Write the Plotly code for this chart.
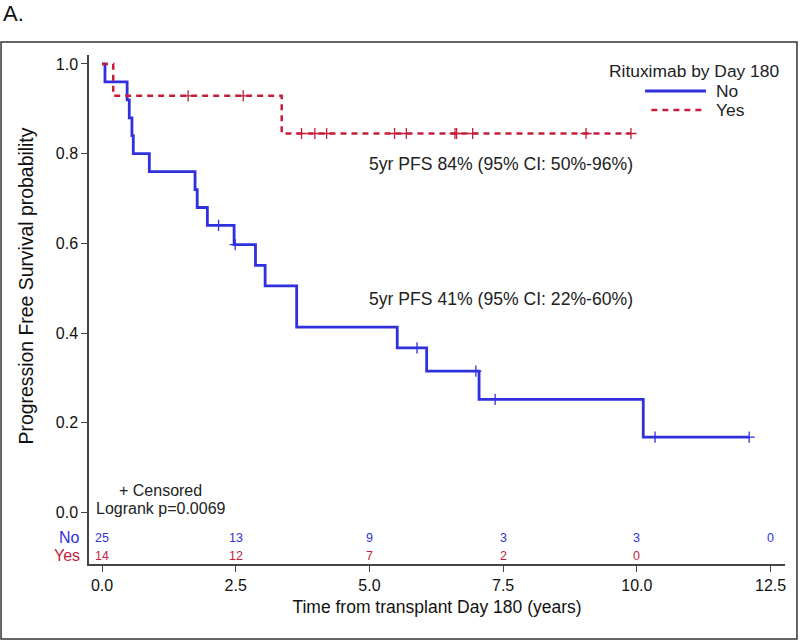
import plotly.graph_objects as go

# ---- data ----
no_step_t = [0.0, 0.056, 0.47, 0.51, 0.56, 0.585, 0.885, 1.74, 1.78, 1.97, 2.47, 2.87, 3.05, 3.64, 5.52, 6.07, 7.05, 10.12, 12.10]
no_step_s = [1.0, 0.96, 0.92, 0.88, 0.84, 0.80, 0.76, 0.72, 0.68, 0.64, 0.597, 0.551, 0.505, 0.413, 0.367, 0.315, 0.252, 0.168, 0.168]
no_cens_t = [2.18, 2.49, 5.89, 6.99, 7.35, 10.34, 12.10]
no_cens_s = [0.64, 0.597, 0.367, 0.315, 0.252, 0.168, 0.168]

yes_step_t = [0.0, 0.21, 3.36, 9.89]
yes_step_s = [1.0, 0.929, 0.845, 0.845]
yes_cens_t = [1.61, 2.64, 3.73, 3.98, 4.20, 5.47, 5.69, 6.60, 6.63, 6.93, 9.05, 9.89]
yes_cens_s = [0.929, 0.929, 0.845, 0.845, 0.845, 0.845, 0.845, 0.845, 0.845, 0.845, 0.845, 0.845]

risk_times = [0.0, 2.5, 5.0, 7.5, 10.0, 12.5]
risk_no = [25, 13, 9, 3, 3, 0]
risk_yes = [14, 12, 7, 2, 0, None]

x_ticks = [0.0, 2.5, 5.0, 7.5, 10.0, 12.5]
y_ticks = [0.0, 0.2, 0.4, 0.6, 0.8, 1.0]

BLUE = "#3030DD"
RED = "#C41E3A"
FONT = "Arial, Liberation Sans, sans-serif"

fig = go.Figure()
fig.add_trace(go.Scatter(x=no_step_t, y=no_step_s, mode="lines", line_shape="hv",
                         line=dict(color=BLUE, width=2.8), name="No", showlegend=False))
fig.add_trace(go.Scatter(x=yes_step_t, y=yes_step_s, mode="lines", line_shape="hv",
                         line=dict(color=RED, width=2.5, dash="6px,5px"), name="Yes", showlegend=False))
fig.add_trace(go.Scatter(x=no_cens_t, y=no_cens_s, mode="markers",
                         marker=dict(symbol="cross-thin", size=8, line=dict(color=BLUE, width=1.3)),
                         showlegend=False))
fig.add_trace(go.Scatter(x=yes_cens_t, y=yes_cens_s, mode="markers",
                         marker=dict(symbol="cross-thin", size=8, line=dict(color=RED, width=1.3)),
                         showlegend=False))


def txt(x, y, text, size, color="#222", xref="x", yref="y", xanchor="center", **kw):
    d = dict(x=x, y=y, xref=xref, yref=yref, text=text, showarrow=False,
             xanchor=xanchor, yanchor="middle", font=dict(size=size, color=color))
    d.update(kw)
    return d


ann = []
ann.append(txt(7.46, 0.778, "5yr PFS 84% (95% CI: 50%-96%)", 17.6))
ann.append(txt(7.46, 0.477, "5yr PFS 41% (95% CI: 22%-60%)", 17.6))
ann.append(txt(1.10, 0.05, "+ Censored", 16))
ann.append(txt(1.10, 0.008, "Logrank p=0.0069", 16))
for t, n in zip(risk_times, risk_no):
    if n is not None:
        ann.append(txt(t, -0.057, str(n), 12.5, BLUE))
for t, n in zip(risk_times, risk_yes):
    if n is not None:
        ann.append(txt(t, -0.097, str(n), 12.5, RED))
ann.append(txt(-0.01, -0.057, "No", 16, BLUE, xref="paper", xanchor="right"))
ann.append(txt(-0.01, -0.097, "Yes", 16, RED, xref="paper", xanchor="right"))
ann.append(txt(-0.0905, 0.504, "Progression Free Survival probability", 19.4, "#111",
               xref="paper", textangle=-90))
# legend (manual)
ann.append(txt(0.869, 0.9686, "Rituximab by Day 180", 17.4, xref="paper", yref="paper"))
ann.append(txt(0.898, 0.9293, "No", 17.4, xref="paper", yref="paper", xanchor="left"))
ann.append(txt(0.898, 0.892, "Yes", 17.4, xref="paper", yref="paper", xanchor="left"))
# panel label
ann.append(txt(-0.1264, 1.0825, "A.", 22, "#111", xref="paper", yref="paper", xanchor="left"))

shapes = [
    dict(type="rect", xref="paper", yref="paper", x0=-0.1264, x1=1.0172, y0=-0.1473, y1=1.0255,
         line=dict(color="#333", width=1.5)),
    dict(type="line", xref="paper", yref="paper", x0=0.799, x1=0.8865, y0=0.9293, y1=0.9293,
         line=dict(color=BLUE, width=2.8)),
    dict(type="line", xref="paper", yref="paper", x0=0.808, x1=0.8865, y0=0.892, y1=0.892,
         line=dict(color=RED, width=2.5, dash="6px,5px")),
]

fig.update_layout(
    width=800, height=642,
    margin=dict(l=89, r=15, t=55, b=78),
    paper_bgcolor="white", plot_bgcolor="white",
    font=dict(family=FONT, color="#111"),
    showlegend=False,
    annotations=ann, shapes=shapes,
    xaxis=dict(range=[-0.243, 12.77], tickvals=x_ticks, ticktext=[f"{v:.1f}" for v in x_ticks],
               showgrid=False, zeroline=False, showline=True, linecolor="#444", linewidth=1.5,
               ticks="outside", ticklen=6, tickcolor="#444", tickfont=dict(size=16, color="#111"),
               title=dict(text="Time from transplant Day 180 (years)", font=dict(size=17.5, color="#111"),
                          standoff=8)),
    yaxis=dict(range=[-0.115, 1.02], tickvals=y_ticks, ticktext=[f"{v:.1f}" for v in y_ticks],
               showgrid=False, zeroline=False, showline=True, linecolor="#444", linewidth=1.5,
               ticks="outside", ticklen=6, tickcolor="#444", tickfont=dict(size=16, color="#111")),
)

fig.write_html("out.html", config={"displayModeBar": False},
               post_script="document.body.style.margin='0';document.body.style.overflow='hidden';")
